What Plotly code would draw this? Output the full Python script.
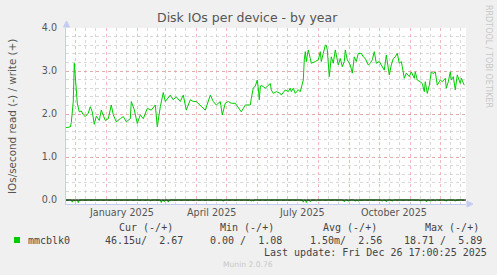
import plotly.graph_objects as go

# ---------------- data ----------------
write_dates = [
    "2024-11-21", "2024-11-26", "2024-11-27", "2024-11-29", "2024-11-30", "2024-12-02", "2024-12-03",
    "2024-12-05", "2024-12-07", "2024-12-09", "2024-12-11", "2024-12-14", "2024-12-16", "2024-12-18",
    "2024-12-20", "2024-12-22", "2024-12-25", "2024-12-27", "2024-12-31", "2025-01-03", "2025-01-06",
    "2025-01-08", "2025-01-11", "2025-01-15", "2025-01-18", "2025-01-21", "2025-01-25", "2025-01-26",
    "2025-01-29", "2025-02-01", "2025-02-04", "2025-02-07", "2025-02-11", "2025-02-15", "2025-02-19",
    "2025-02-21", "2025-02-24", "2025-02-27", "2025-03-01", "2025-03-06", "2025-03-09", "2025-03-12",
    "2025-03-16", "2025-03-19", "2025-03-22", "2025-03-26", "2025-03-29", "2025-04-01", "2025-04-05",
    "2025-04-10", "2025-04-15", "2025-04-18", "2025-04-21", "2025-04-25", "2025-04-27", "2025-04-30",
    "2025-05-03", "2025-05-06", "2025-05-10", "2025-05-15", "2025-05-16", "2025-05-20", "2025-05-25",
    "2025-05-26", "2025-05-28", "2025-05-30", "2025-06-01", "2025-06-02", "2025-06-03", "2025-06-04",
    "2025-06-05", "2025-06-09", "2025-06-12", "2025-06-14", "2025-06-15", "2025-06-17", "2025-06-20",
    "2025-06-24", "2025-06-25", "2025-06-29", "2025-07-02", "2025-07-04", "2025-07-05", "2025-07-07",
    "2025-07-09", "2025-07-12", "2025-07-14", "2025-07-15", "2025-07-17", "2025-07-18", "2025-07-19",
    "2025-07-20", "2025-07-22", "2025-07-24", "2025-07-25", "2025-07-29", "2025-08-01", "2025-08-03",
    "2025-08-04", "2025-08-06", "2025-08-08", "2025-08-09", "2025-08-10", "2025-08-12", "2025-08-14",
    "2025-08-16", "2025-08-18", "2025-08-21", "2025-08-23", "2025-08-25", "2025-08-27", "2025-08-28",
    "2025-08-30", "2025-09-02", "2025-09-04", "2025-09-06", "2025-09-08", "2025-09-10", "2025-09-13",
    "2025-09-15", "2025-09-17", "2025-09-20", "2025-09-22", "2025-09-24", "2025-09-26", "2025-09-28",
    "2025-10-01", "2025-10-03", "2025-10-06", "2025-10-08", "2025-10-09", "2025-10-11", "2025-10-13",
    "2025-10-15", "2025-10-17", "2025-10-19", "2025-10-21", "2025-10-23", "2025-10-24", "2025-10-26",
    "2025-10-28", "2025-10-31", "2025-11-02", "2025-11-05", "2025-11-06", "2025-11-08", "2025-11-11",
    "2025-11-13", "2025-11-15", "2025-11-16", "2025-11-18", "2025-11-20", "2025-11-22", "2025-11-24",
    "2025-11-26", "2025-11-28", "2025-12-01", "2025-12-03", "2025-12-06", "2025-12-07", "2025-12-09",
    "2025-12-11", "2025-12-12", "2025-12-14", "2025-12-16", "2025-12-18", "2025-12-21", "2025-12-22",
    "2025-12-25",
]
write_vals = [
    1.68, 1.70, 1.80, 2.30, 3.18, 2.60, 2.25,
    2.05, 2.07, 1.98, 1.94, 2.02, 2.17, 2.05,
    1.76, 1.95, 1.85, 2.09, 1.85, 1.89, 2.21,
    1.98, 1.82, 1.89, 1.94, 1.82, 1.89, 2.29,
    2.10, 1.78, 1.98, 1.89, 2.13, 2.09, 2.21,
    1.70, 2.17, 2.50, 2.29, 2.44, 2.33, 2.40,
    2.29, 2.44, 2.09, 2.33, 2.29, 2.29, 2.21,
    2.09, 2.44, 2.29, 2.21, 2.29, 1.98, 2.25,
    2.29, 2.25, 2.25, 2.09, 2.05, 2.21, 2.21,
    2.36, 2.60, 2.65, 2.79, 2.60, 2.33, 2.63,
    2.67, 2.60, 2.67, 2.71, 2.56, 2.48, 2.52,
    2.48, 2.44, 2.56, 2.52, 2.60, 2.52, 2.60,
    2.48, 2.56, 2.52, 2.63, 2.79, 3.26, 3.45,
    3.22, 3.49, 3.29, 3.18, 3.22, 3.26, 3.45,
    3.22, 3.41, 3.60, 3.60, 3.49, 2.87, 3.33,
    3.18, 3.49, 3.14, 3.29, 3.10, 3.22, 3.49,
    3.26, 3.14, 2.95, 3.33, 3.22, 3.41, 3.41,
    3.33, 3.29, 3.14, 3.18, 3.26, 3.45, 3.18,
    3.22, 3.14, 3.02, 3.37, 3.22, 2.91, 3.14,
    3.29, 3.33, 3.41, 3.18, 3.22, 3.10, 2.83,
    2.95, 2.87, 2.98, 2.83, 2.98, 2.79, 2.75,
    2.71, 2.52, 2.75, 2.48, 2.67, 2.98, 2.94,
    2.98, 2.67, 2.79, 2.75, 2.83, 2.60, 2.75,
    2.98, 2.79, 2.87, 2.56, 2.91, 2.71, 2.83,
    2.67,
]

# read is graphed as negative (below the zero line)
read_dates = [
    "2024-11-21", "2024-11-27", "2024-11-28", "2024-11-29", "2024-11-30", "2024-12-01", "2024-12-02",
    "2024-12-03", "2024-12-04", "2024-12-05", "2025-02-13", "2025-02-14", "2025-02-15", "2025-02-24",
    "2025-02-25", "2025-02-26", "2025-02-27", "2025-02-28", "2025-03-01", "2025-03-03", "2025-03-04",
    "2025-03-05", "2025-04-27", "2025-04-28", "2025-04-29", "2025-05-25", "2025-05-26", "2025-05-27",
    "2025-05-28", "2025-05-29", "2025-07-16", "2025-07-17", "2025-07-18", "2025-07-19", "2025-07-20",
    "2025-07-21", "2025-07-23", "2025-07-24", "2025-07-25", "2025-07-29", "2025-07-30", "2025-07-31",
    "2025-08-26", "2025-08-27", "2025-08-28", "2025-08-30", "2025-08-31", "2025-09-01", "2025-09-06",
    "2025-09-07", "2025-09-08", "2025-09-09", "2025-09-10", "2025-09-11", "2025-10-03", "2025-10-04",
    "2025-10-05", "2025-10-07", "2025-10-08", "2025-10-09", "2025-10-13", "2025-10-14", "2025-10-15",
    "2025-11-10", "2025-11-11", "2025-11-12", "2025-11-16", "2025-11-17", "2025-11-18", "2025-11-20",
    "2025-11-21", "2025-11-22", "2025-11-25", "2025-11-26", "2025-11-27", "2025-12-06", "2025-12-07",
    "2025-12-08", "2025-12-15", "2025-12-16", "2025-12-17", "2025-12-25",
]
read_vals = [
    0, 0, -0.05, 0, 0, -0.03, 0,
    0, -0.06, 0, 0, -0.02, 0, 0,
    -0.06, 0, 0, -0.04, 0, 0, -0.05,
    0, 0, -0.03, 0, 0, -0.03, 0,
    -0.02, 0, 0, -0.05, 0, 0, -0.06,
    0, 0, -0.04, 0, 0, -0.02, 0,
    0, -0.04, 0, 0, -0.03, 0, 0,
    -0.03, 0, 0, -0.03, 0, 0, -0.03,
    0, 0, -0.04, 0, 0, -0.03, 0,
    0, -0.03, 0, 0, -0.04, 0, 0,
    -0.03, 0, 0, -0.02, 0, 0, -0.03,
    0, 0, -0.03, 0, 0,
]

month_grid = ["2024-12-01", "2025-01-01", "2025-02-01", "2025-03-01", "2025-04-01", "2025-05-01",
              "2025-06-01", "2025-07-01", "2025-08-01", "2025-09-01", "2025-10-01", "2025-11-01",
              "2025-12-01"]
minor_grid = ["2024-12-11", "2024-12-21", "2025-01-11", "2025-01-21", "2025-02-11", "2025-02-21",
              "2025-03-11", "2025-03-21", "2025-04-11", "2025-04-21", "2025-05-11", "2025-05-21",
              "2025-06-11", "2025-06-21", "2025-07-11", "2025-07-21", "2025-08-11", "2025-08-21",
              "2025-09-11", "2025-09-21", "2025-10-11", "2025-10-21", "2025-11-11", "2025-11-21",
              "2025-12-11", "2025-12-21"]
label_dates = ["2025-01-16", "2025-04-16", "2025-07-16", "2025-10-16"]
label_texts = ["January 2025", "April 2025", "July 2025", "October 2025"]
y_ticks = [0, 1, 2, 3, 4]

series_name = "mmcblk0"
stat_heads = ["Cur (-/+)", "Min (-/+)", "Avg (-/+)", "Max (-/+)"]
stat_vals = ["46.15u/  2.67", "0.00 /  1.08", "1.50m/  2.56", "18.71 /  5.89"]
last_update = "Last update: Fri Dec 26 17:00:25 2025"

x_start = "2024-11-21 17:00:25"
x_end = "2025-12-26 17:00:25"

# ---------------- layout constants ----------------
W, H = 497, 275
L, R, T, B = 66, 31, 28, 71
PW, PH = W - L - R, H - T - B
GREEN = "#00CC00"
AXIS = "#C4CCF2"
TXT = "#555555"
MAJOR = "rgba(235,140,140,0.6)"
MINOR = "rgba(185,185,185,0.55)"

def px(x):
    return (x - L) / PW

def py(y):
    return (H - B - y) / PH

fig = go.Figure()
fig.add_trace(go.Scatter(x=read_dates, y=read_vals, mode="lines",
                         line=dict(color=GREEN, width=1), hoverinfo="skip"))
fig.add_trace(go.Scatter(x=write_dates, y=write_vals, mode="lines",
                         line=dict(color=GREEN, width=1), hoverinfo="skip"))

ymin = -4 / 43.0

fig.update_layout(
    width=W, height=H,
    margin=dict(l=L, r=R, t=T, b=B, pad=0),
    paper_bgcolor="#F0F0F0", plot_bgcolor="#FFFFFF",
    showlegend=False,
    font=dict(family="DejaVu Sans", size=10, color=TXT),
    xaxis=dict(
        type="date", range=[x_start, x_end],
        tickvals=month_grid, ticktext=[""] * len(month_grid),
        showgrid=True, gridcolor=MAJOR, griddash="dot", gridwidth=1,
        minor=dict(tickvals=minor_grid, showgrid=True, gridcolor=MINOR,
                   griddash="dot", gridwidth=1),
        showline=True, linecolor=AXIS, linewidth=1,
        zeroline=False, ticks="", fixedrange=True,
    ),
    yaxis=dict(
        range=[ymin, 4.0],
        tickvals=y_ticks, ticktext=["%.1f" % v for v in y_ticks],
        showgrid=True, gridcolor=MAJOR, griddash="dot", gridwidth=1,
        minor=dict(dtick=0.2, tick0=0, showgrid=True, gridcolor=MINOR,
                   griddash="dot", gridwidth=1),
        showline=True, linecolor=AXIS, linewidth=1,
        zeroline=False, ticks="outside", ticklen=6, tickcolor="rgba(0,0,0,0)",
        tickfont=dict(family="DejaVu Sans", size=9.6, color=TXT),
        fixedrange=True,
    ),
)

shapes = []
# black zero line
shapes.append(dict(type="line", xref="paper", yref="y", x0=0, x1=1, y0=0, y1=0,
                   line=dict(color="black", width=1), layer="above"))
# axis arrows
shapes.append(dict(type="path", xref="paper", yref="paper",
                   path="M %f,%f L %f,%f L %f,%f Z" % (px(63.5), py(27), px(69.5), py(27), px(66.5), py(21)),
                   fillcolor=AXIS, line=dict(color=AXIS, width=1), layer="above"))
shapes.append(dict(type="path", xref="paper", yref="paper",
                   path="M %f,%f L %f,%f L %f,%f Z" % (px(467), py(201), px(467), py(207), px(473), py(204)),
                   fillcolor=AXIS, line=dict(color=AXIS, width=1), layer="above"))
# legend swatch
shapes.append(dict(type="rect", xref="paper", yref="paper",
                   x0=px(14), x1=px(20), y0=py(243), y1=py(237),
                   fillcolor=GREEN, line=dict(width=0)))
fig.update_layout(shapes=shapes)

ann = []
ann.append(dict(text="Disk IOs per device - by year", xref="paper", yref="paper",
                x=px(247.5), y=py(18), xanchor="center", yanchor="middle", showarrow=False,
                font=dict(family="DejaVu Sans", size=12.5, color=TXT)))
ann.append(dict(text="IOs/second read (-) / write (+)", xref="paper", yref="paper",
                x=px(12), y=py(117), xanchor="center", yanchor="middle", showarrow=False,
                textangle=-90, font=dict(family="DejaVu Sans", size=10.4, color=TXT)))
ann.append(dict(text="RRDTOOL / TOBI OETIKER", xref="paper", yref="paper",
                x=px(488), y=py(56), xanchor="center", yanchor="middle", showarrow=False,
                textangle=90, font=dict(family="DejaVu Sans", size=8, color="#C8C8C8")))
for d, t in zip(label_dates, label_texts):
    ann.append(dict(text=t, xref="x", yref="paper", x=d, y=py(213),
                    xanchor="center", yanchor="middle", showarrow=False,
                    font=dict(family="DejaVu Sans", size=9.6, color=TXT)))

MONO = dict(family="DejaVu Sans Mono", size=10, color="#444444")
head_x = [116.7, 218.3, 321, 422.7]
val_x = [103.3, 207.5, 308.3, 401.7]
for xh, t in zip(head_x, stat_heads):
    ann.append(dict(text=t, xref="paper", yref="paper", x=px(xh), y=py(227.5),
                    xanchor="left", yanchor="middle", showarrow=False, font=MONO))
ann.append(dict(text=series_name, xref="paper", yref="paper", x=px(26), y=py(240),
                xanchor="left", yanchor="middle", showarrow=False, font=MONO))
for xv, t in zip(val_x, stat_vals):
    ann.append(dict(text=t.replace(" ", "&nbsp;"), xref="paper", yref="paper", x=px(xv), y=py(240),
                    xanchor="left", yanchor="middle", showarrow=False, font=MONO))
ann.append(dict(text=last_update.replace(" ", "&nbsp;"), xref="paper", yref="paper", x=px(261.7), y=py(252),
                xanchor="left", yanchor="middle", showarrow=False, font=MONO))
ann.append(dict(text="Munin 2.0.76", xref="paper", yref="paper", x=px(248), y=py(264.5),
                xanchor="center", yanchor="middle", showarrow=False,
                font=dict(family="DejaVu Sans", size=7.6, color="#C8C8C8")))
fig.update_layout(annotations=ann)

fig.write_html("out.html")
